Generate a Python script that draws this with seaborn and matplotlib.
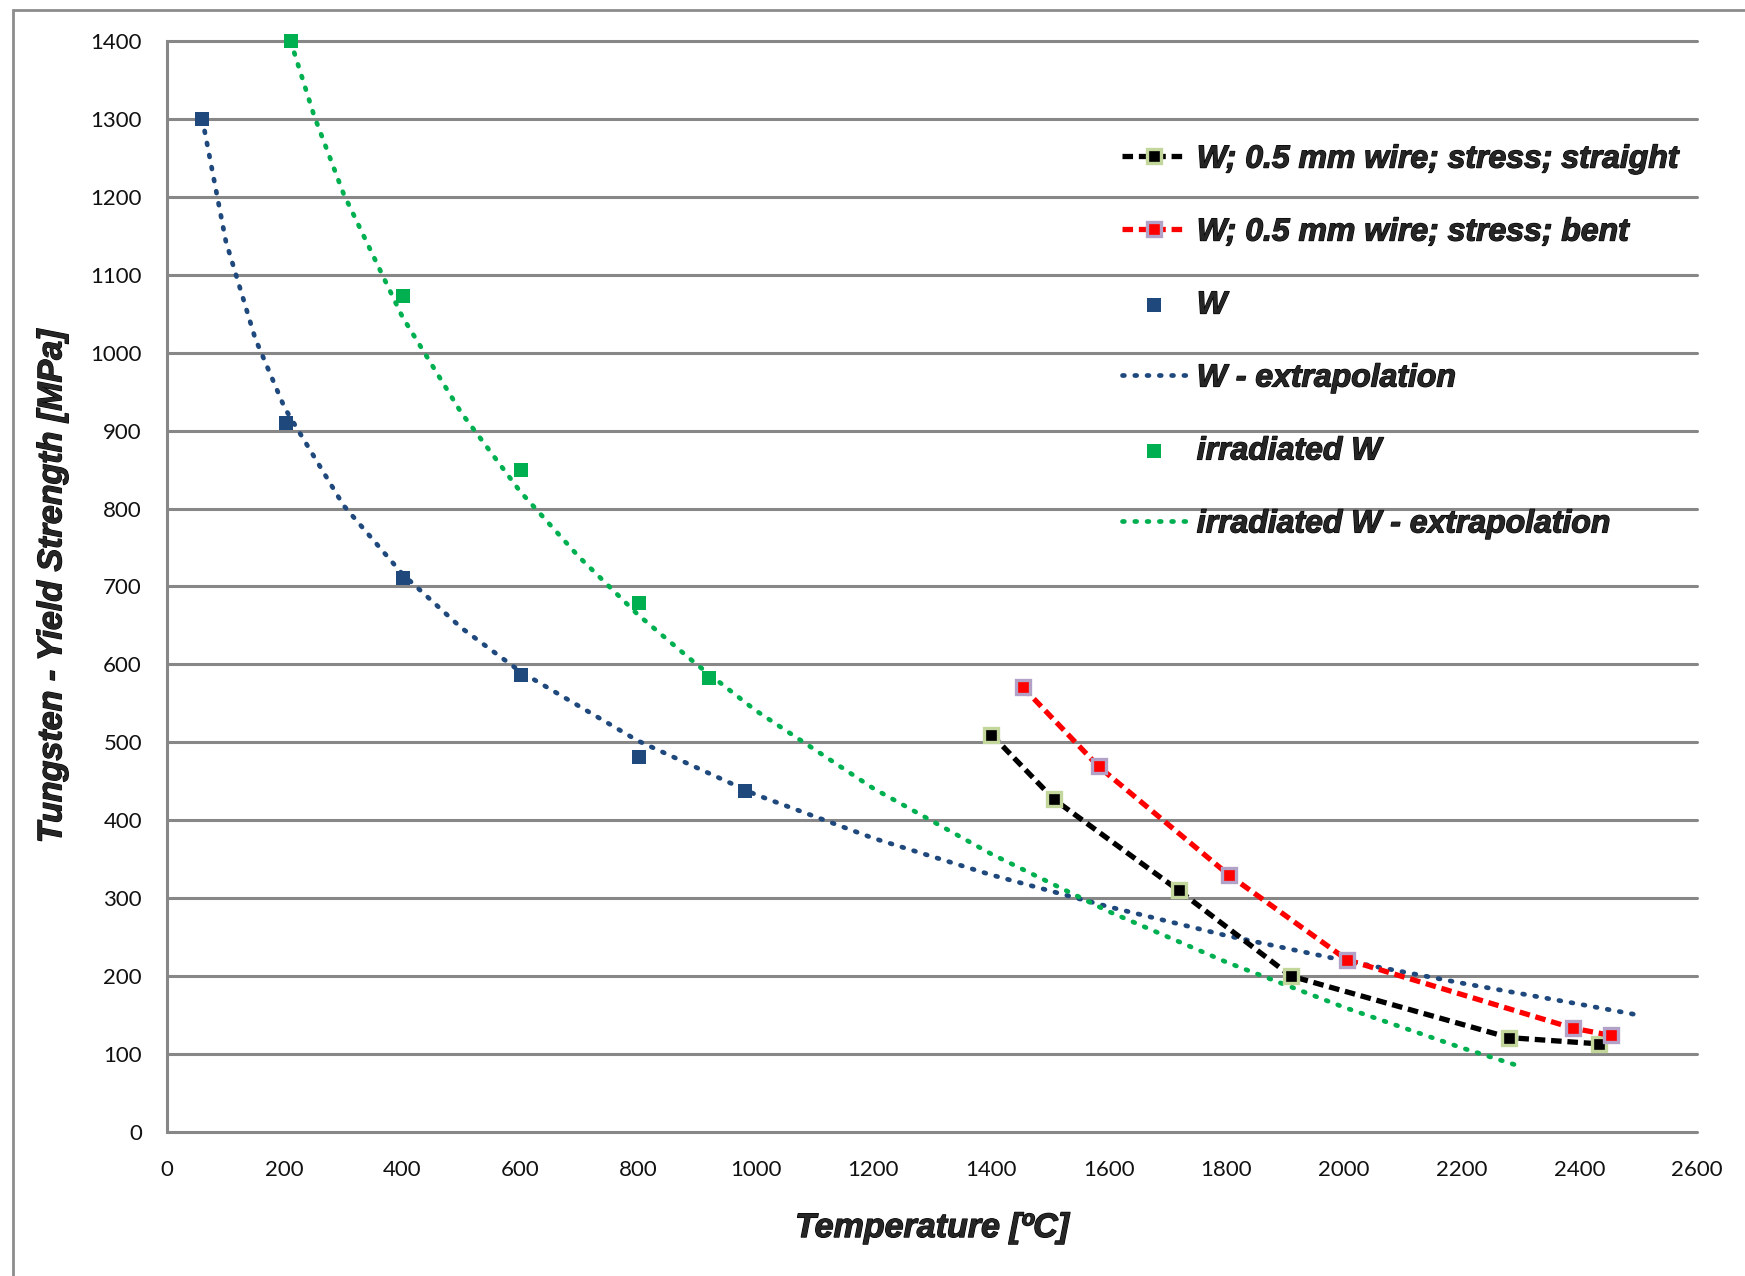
import numpy as np
import pandas as pd
import matplotlib
matplotlib.use("Agg")
import matplotlib.pyplot as plt
import matplotlib.patheffects as pe
import seaborn as sns
from matplotlib.patches import Rectangle

# ---------------- data ----------------
straight_T = [1401, 1507, 1719, 1910, 2281, 2434]
straight_S = [510, 427, 310, 200, 121, 113]

bent_T = [1454, 1583, 1804, 2005, 2390, 2453]
bent_S = [571, 469, 330, 221, 133, 124]

w_T = [60, 202, 401, 601, 802, 983]
w_S = [1300, 910, 711, 587, 481, 437]

w_ext_T = [60, 100, 150, 200, 300, 400, 500, 600, 800, 1000, 1200, 1400,
           1600, 1800, 2000, 2200, 2400, 2500]
w_ext_S = [1300, 1143, 1018, 929, 804, 716, 647, 591, 502, 433, 377, 330,
           289, 252, 220, 191, 164, 150]

irr_T = [210, 401, 601, 802, 921]
irr_S = [1400, 1073, 850, 679, 583]

irr_ext_T = [210, 250, 300, 400, 500, 600, 700, 800, 900, 1000, 1200, 1400,
             1600, 1800, 2000, 2200, 2300]
irr_ext_S = [1400, 1304, 1204, 1046, 923, 822, 738, 664, 600, 541, 441, 357,
             283, 218, 160, 108, 84]

x_ticks = list(range(0, 2601, 200))
y_ticks = list(range(0, 1401, 100))

labels = ["W; 0.5 mm wire; stress; straight",
          "W; 0.5 mm wire; stress; bent",
          "W",
          "W - extrapolation",
          "irradiated W",
          "irradiated W - extrapolation"]

# ---------------- styling ----------------
sns.set_style("white")
plt.rcParams['font.family'] = ['Liberation Sans', 'DejaVu Sans']

BLUE = "#1F497D"
GREEN = "#00B050"
heavy = [pe.withStroke(linewidth=0.9, foreground='black')]

fig = plt.figure(figsize=(17.45, 12.76), dpi=100)
ax = fig.add_axes([0.0957, 0.1129, 0.8768, 0.8550])

dot = (0, (0.4, 2.2))
dash = (0, (2.0, 1.1))

df_str = pd.DataFrame({"T": straight_T, "S": straight_S})
df_bent = pd.DataFrame({"T": bent_T, "S": bent_S})
df_w = pd.DataFrame({"T": w_T, "S": w_S})
df_wext = pd.DataFrame({"T": w_ext_T, "S": w_ext_S})
df_irr = pd.DataFrame({"T": irr_T, "S": irr_S})
df_irrext = pd.DataFrame({"T": irr_ext_T, "S": irr_ext_S})

# extrapolation curves
sns.lineplot(data=df_wext, x="T", y="S", ax=ax, color=BLUE, lw=3.4,
             linestyle=dot, dash_capstyle='round', label=labels[3], zorder=3,
             sort=False)
sns.lineplot(data=df_irrext, x="T", y="S", ax=ax, color=GREEN, lw=3.4,
             linestyle=dot, dash_capstyle='round', label=labels[5], zorder=3,
             sort=False)

# wire series
sns.lineplot(data=df_str, x="T", y="S", ax=ax, color="black", lw=3.8,
             linestyle=dash, marker="s", markersize=10, markerfacecolor="black",
             markeredgecolor="#C3D69B", markeredgewidth=2.4,
             label=labels[0], zorder=5, sort=False)
sns.lineplot(data=df_bent, x="T", y="S", ax=ax, color="#FF0000", lw=3.8,
             linestyle=dash, marker="s", markersize=10, markerfacecolor="#FF0000",
             markeredgecolor="#B3A2C7", markeredgewidth=2.4,
             label=labels[1], zorder=5, sort=False)

# measured points
sns.scatterplot(data=df_w, x="T", y="S", ax=ax, color=BLUE, marker="s", s=105,
                edgecolor=BLUE, linewidth=0, label=labels[2], zorder=6,
                clip_on=False)
sns.scatterplot(data=df_irr, x="T", y="S", ax=ax, color=GREEN, marker="s", s=105,
                edgecolor=GREEN, linewidth=0, label=labels[4], zorder=6,
                clip_on=False)

# axes
ax.set_xlim(0, 2600)
ax.set_ylim(0, 1400)
ax.set_xticks(x_ticks)
ax.set_yticks(y_ticks)
ax.set_xticklabels([str(v) for v in x_ticks], fontsize=16, family=['Lato', 'DejaVu Sans'])
ax.set_yticklabels([str(v) for v in y_ticks], fontsize=16, family=['Lato', 'DejaVu Sans'])
ax.tick_params(axis='x', length=0, pad=20, colors='#111111')
ax.tick_params(axis='y', length=0, pad=18, colors='#111111')

ax.grid(axis='y', color='#878787', lw=2.2)
ax.grid(axis='x', visible=False)
for gl in ax.get_ygridlines():
    gl.set_clip_on(False)
for s in ['top', 'right', 'bottom']:
    ax.spines[s].set_visible(False)
ax.spines['left'].set_color('#878787')
ax.spines['left'].set_linewidth(2.2)

xl = ax.set_xlabel("Temperature [ºC]", fontsize=24.5, fontweight='bold', style='italic',
                   labelpad=24)
yl = ax.set_ylabel("Tungsten - Yield Strength [MPa]", fontsize=24.5, fontweight='bold',
                   style='italic', labelpad=16)
xl.set_path_effects(heavy)
yl.set_path_effects(heavy)

# legend in the reference order
handles, labs = ax.get_legend_handles_labels()
hmap = dict(zip(labs, handles))
leg = ax.legend([hmap[l] for l in labels], labels, loc='upper left',
                bbox_to_anchor=(0.624, 0.905), frameon=False,
                prop={'size': 23, 'weight': 'bold', 'style': 'italic'},
                labelspacing=1.345, handlelength=2.05, handletextpad=0.3,
                borderpad=0, borderaxespad=0)
for t in leg.get_texts():
    t.set_path_effects(heavy)

# outer chart border
fig.patches.append(Rectangle((0.0075, -0.02), 1.02, 1.012, transform=fig.transFigure,
                             fill=False, edgecolor='#8C8C8C', lw=2.0))

fig.savefig("out.png", dpi=100)
